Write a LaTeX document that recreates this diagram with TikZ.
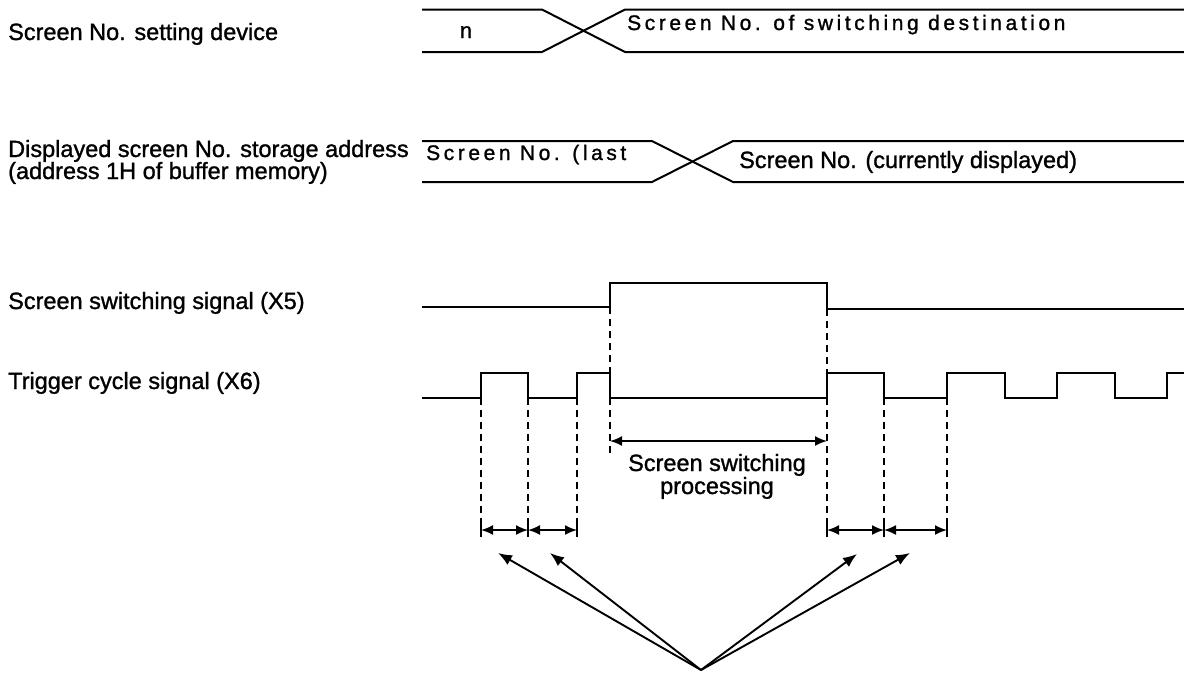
\documentclass[tikz,border=0pt]{standalone}
\usepackage{fontspec}
\setmainfont[FakeBold=1.2]{Liberation Sans}
\newfontfamily\spc[LetterSpace=17,FakeBold=1.2]{Liberation Sans}
\usetikzlibrary{arrows.meta}
\begin{document}
\begin{tikzpicture}[x=1pt,y=-1pt,
  sig/.style={line width=2pt, line join=miter},
  dsh/.style={line width=1.9pt, dash pattern=on 7pt off 5pt},
  lbl/.style={anchor=base west, inner sep=0pt, font=\fontsize{23.5}{26}\selectfont},
  bustxt/.style={anchor=base west, inner sep=0pt, font=\spc\fontsize{21}{24}\selectfont},
  dim/.style={line width=1.7pt, {Latex[length=12pt,width=10pt]}-{Latex[length=12pt,width=10pt]}},
  ptr/.style={line width=1.9pt, -{Latex[length=14pt,width=11pt]}},
  tick/.style={line width=2.2pt}]
\useasboundingbox (0,0) rectangle (1184,673);

% labels
\node[lbl] (l1) at (8,40) {Screen No. setting device};
\node[lbl] (l2a) at (8,157) {Displayed screen No. storage address};
\node[lbl] (l2b) at (8,179) {(address 1H of buffer memory)};
\node[lbl] (l3) at (8,309) {Screen switching signal (X5)};
\node[lbl] (l4) at (8,389) {Trigger cycle signal (X6)};

% bus 1
\draw[sig] (422,9.5) -- (542,9.5) -- (625,52) -- (1184,52);
\draw[sig] (422,52) -- (542,52) -- (625,9.5) -- (1184,9.5);
\node[anchor=base, inner sep=0pt, font=\fontsize{22}{24}\selectfont] (nval) at (466,38) {n};
\node[bustxt] (dest) at (627,30) {Screen No. of switching destination};

% bus 2
\draw[sig] (422,141) -- (652,141) -- (733,182) -- (1184,182);
\draw[sig] (422,182) -- (652,182) -- (733,141) -- (1184,141);
\node[bustxt] (last) at (426,160) {Screen No. (last};
\node[lbl] (cur) at (739,168) {Screen No. (currently displayed)};

% X5
\draw[sig] (422,307) -- (610,307) -- (610,283) -- (827,283) -- (827,309) -- (1184,309);
% X6
\draw[sig] (422,398) -- (481,398) -- (481,373) -- (528,373) -- (528,398)
  -- (577,398) -- (577,373) -- (610,373) -- (610,398) -- (827,398)
  -- (827,373) -- (884,373) -- (884,398) -- (947,398) -- (947,373)
  -- (1005,373) -- (1005,398) -- (1057,398) -- (1057,373) -- (1115,373)
  -- (1115,398) -- (1167,398) -- (1167,373) -- (1184,373);

% dashed guides
\draw[dsh] (610,307) -- (610,373);
\draw[dsh] (827,309) -- (827,373);
\draw[dsh] (610,398) -- (610,456);
\foreach \x in {481,528,577,827,884,947} \draw[dsh] (\x,398) -- (\x,524);

% processing span
\coordinate (pa) at (610,441);
\coordinate (pb) at (827,441);
\draw[dim] (pa) -- (pb);
\node[lbl, anchor=base] (proc1) at (717,471) {Screen switching};
\node[lbl, anchor=base] (proc2) at (717,494) {processing};

% cycle spans
\coordinate (c1) at (481,530);
\coordinate (c2) at (528,530);
\coordinate (c3) at (577,530);
\coordinate (c4) at (827,530);
\coordinate (c5) at (884,530);
\coordinate (c6) at (947,530);
\foreach \c in {c1,c2,c3,c4,c5,c6} \draw[tick] ([yshift=7pt]\c) -- ([yshift=-7pt]\c);
\draw[dim] (c1) -- (c2);
\draw[dim] (c2) -- (c3);
\draw[dim] (c4) -- (c5);
\draw[dim] (c5) -- (c6);

% pointers
\coordinate (ap) at (701,670);
\coordinate (t1) at (498,553);
\coordinate (t2) at (550,553);
\coordinate (t3) at (857,554);
\coordinate (t4) at (910,553);
\draw[ptr] (ap) -- (t1);
\draw[ptr] (ap) -- (t2);
\draw[ptr] (ap) -- (t3);
\draw[ptr] (ap) -- (t4);
\end{tikzpicture}
\end{document}
